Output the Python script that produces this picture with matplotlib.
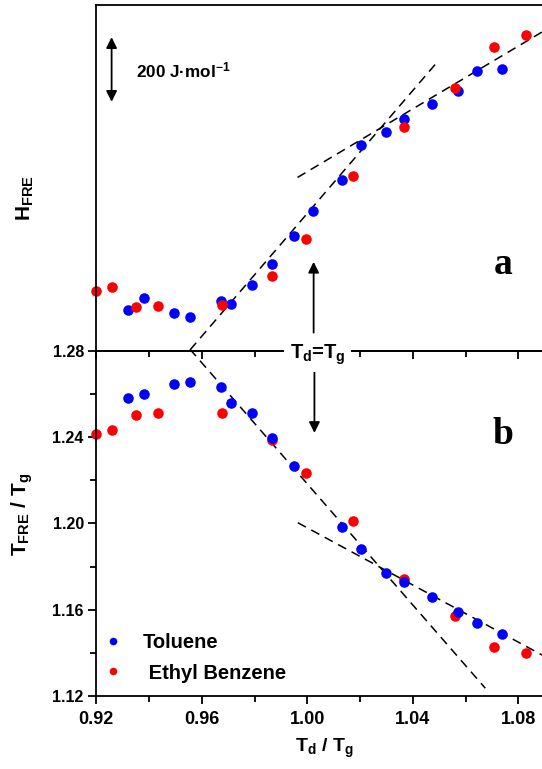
import numpy as np
import matplotlib
matplotlib.use("Agg")
import matplotlib.pyplot as plt
from matplotlib.ticker import MultipleLocator, FormatStrFormatter

plt.rcParams['font.family'] = 'Liberation Sans'
plt.rcParams['font.weight'] = 'bold'
plt.rcParams['mathtext.fontset'] = 'custom'
plt.rcParams['mathtext.rm'] = 'Liberation Sans:bold'
plt.rcParams['mathtext.it'] = 'Liberation Sans:bold'
plt.rcParams['mathtext.bf'] = 'Liberation Sans:bold'

# reduced deposition temperature Td/Tg
x_tol = [0.9319, 0.9379, 0.9495, 0.9554, 0.9673, 0.9712, 0.9792, 0.9867, 0.9948,
         1.0020, 1.0132, 1.0205, 1.0298, 1.0368, 1.0472, 1.0570, 1.0642, 1.0737]
x_eb = [0.9199, 0.9258, 0.9351, 0.9433, 0.9678, 0.9867, 0.9995, 1.0175, 1.0366,
        1.0559, 1.0707, 1.0829]

# (a) enthalpy overshoot, J/mol (relative)
h_tol = [124.6, 162.9, 115.3, 104.2, 154.6, 143.1, 203.1, 268.9, 355.5,
         433.7, 529.5, 635.8, 676.9, 717.1, 763.5, 804.6, 864.6, 871.7]
h_eb = [183.3, 195.7, 135.1, 136.9, 141.3, 229.7, 346.2, 540.9, 691.5,
        812.0, 938.7, 977.7]

# (b) onset temperature of the overshoot, TFRE/Tg (no point at 1.002)
t_tol = [1.2581, 1.2599, 1.2647, 1.2656, 1.2633, 1.2558, 1.2510, 1.2394, 1.2264,
         np.nan, 1.1983, 1.1881, 1.1770, 1.1730, 1.1657, 1.1588, 1.1537, 1.1487]
t_eb = [1.2415, 1.2433, 1.2503, 1.2511, 1.2511, 1.2386, 1.2235, 1.2009, 1.1741,
        1.1572, 1.1426, 1.1401]

# linear guides: (x0, x1), (y0, y1)
fit_a1 = [(0.9556, 1.0494), (3.0, 894.2)]
fit_a2 = [(0.9963, 1.0890), (536.0, 986.0)]
fit_b1 = [(0.9555, 1.0675), (1.2807, 1.1236)]
fit_b2 = [(0.9964, 1.0890), (1.2003, 1.1390)]

W, H = 542, 769
fig = plt.figure(figsize=(W / 100, H / 100), dpi=100)
left, right = 96.3 / W, 1.0
ax_a = fig.add_axes([left, 1 - 350.7 / H, right - left, (350.7 - 5) / H])
ax_b = fig.add_axes([left, 1 - 696 / H, right - left, (696 - 350.7) / H], sharex=ax_a)

dash = dict(color='black', lw=1.1, ls=(0, (6, 4)))
ms = 7.6
arrow = dict(color='black', lw=1.3, mutation_scale=16, shrinkA=0, shrinkB=0)

# panel a
ax_a.plot(*fit_a1, **dash)
ax_a.plot(*fit_a2, **dash)
ax_a.plot(x_tol, h_tol, 'o', color='#0000ff', ms=ms, mec='none', clip_on=False)
ax_a.plot(x_eb, h_eb, 'o', color='#ff0000', ms=ms, mec='none', clip_on=False)
ax_a.set_ylim(0, 1069.5)
ax_a.set_xlim(0.92, 0.92 + (W - 96.3) / 2637.5)
ax_a.spines['right'].set_visible(False)
ax_a.spines['bottom'].set_visible(False)
ax_a.tick_params(left=False, labelleft=False, bottom=False, labelbottom=False)
for s in ax_a.spines.values():
    s.set_linewidth(1.3)

# 200 J/mol scale bar
ax_a.annotate('', xy=(0.9258, 970), xytext=(0.9258, 770),
              arrowprops=dict(arrowstyle='<|-|>', **arrow))
ax_a.text(0.9350, 868, '200 J·mol$^{-1}$', fontsize=12.3, fontweight='bold',
          va='center', ha='left')
ax_a.annotate('', xy=(1.0024, 275), xytext=(1.0024, 56),
              arrowprops=dict(arrowstyle='-|>', **arrow))
ax_a.text(0.912, 0.2225, 'a', transform=ax_a.transAxes, fontsize=27,
          family='Liberation Serif', fontweight='bold', ha='center', va='baseline')

# panel b
ax_b.plot(*fit_b1, **dash, clip_on=False)
ax_b.plot(*fit_b2, **dash)
ax_b.plot(x_eb, t_eb, 'o', color='#ff0000', ms=ms, mec='none', clip_on=False)
ax_b.plot(x_tol, t_tol, 'o', color='#0000ff', ms=ms, mec='none', clip_on=False)
ax_b.set_ylim(1.12, 1.28)
ax_b.spines['right'].set_visible(False)
for s in ax_b.spines.values():
    s.set_linewidth(1.3)
ax_b.xaxis.set_major_locator(MultipleLocator(0.04))
ax_b.xaxis.set_minor_locator(MultipleLocator(0.02))
ax_b.yaxis.set_major_locator(MultipleLocator(0.04))
ax_b.yaxis.set_minor_locator(MultipleLocator(0.02))
ax_b.xaxis.set_major_formatter(FormatStrFormatter('%.2f'))
ax_b.yaxis.set_major_formatter(FormatStrFormatter('%.2f'))
ax_b.tick_params(which='both', direction='out', width=1.3)
ax_b.tick_params(which='major', length=6)
ax_b.tick_params(which='minor', length=4)
ax_b.tick_params(axis='x', labelsize=13, pad=5)
ax_b.tick_params(axis='y', labelsize=11.5, pad=3)

# inward ticks along the shared boundary
ax_top = ax_b.secondary_xaxis('top')
ax_top.xaxis.set_major_locator(MultipleLocator(0.04))
ax_top.xaxis.set_minor_locator(MultipleLocator(0.02))
ax_top.tick_params(which='both', direction='in', width=1.3, labeltop=False)
ax_top.tick_params(which='major', length=6)
ax_top.tick_params(which='minor', length=4)
ax_top.spines['top'].set_linewidth(1.3)

ax_b.annotate('', xy=(1.0027, 1.2419), xytext=(1.0027, 1.2701),
              arrowprops=dict(arrowstyle='-|>', **arrow))
ax_b.text(0.912, 0.7298, 'b', transform=ax_b.transAxes, fontsize=27,
          family='Liberation Serif', fontweight='bold', ha='center', va='baseline')

hb, = ax_b.plot([], [], 'o', color='#0000ff', ms=ms * 0.72, mec='none')
hr, = ax_b.plot([], [], 'o', color='#ff0000', ms=ms * 0.72, mec='none')
ax_b.legend([hb, hr], ['Toluene', ' Ethyl Benzene'], loc='lower left',
            bbox_to_anchor=(0.0144, 0.039), frameon=False, fontsize=14.5,
            handlelength=1.0, handletextpad=1.0, labelspacing=0.55,
            borderaxespad=0, borderpad=0)

# labels
fig.text(0.5855, 1 - 358.3 / H, 'T$_\\mathrm{d}$=T$_\\mathrm{g}$', fontsize=14.5,
         fontweight='bold', ha='center', va='baseline',
         bbox=dict(fc='white', ec='none', pad=4))
fig.text(25 / W, 1 - 198 / H, 'H$_\\mathrm{FRE}$', rotation=90, fontsize=15,
         ha='center', va='center')
fig.text(22 / W, 1 - 514 / H, 'T$_\\mathrm{FRE}$ / T$_\\mathrm{g}$', rotation=90,
         fontsize=15, ha='center', va='center')
fig.text(324 / W, 1 - 752 / H, 'T$_\\mathrm{d}$ / T$_\\mathrm{g}$', fontsize=14,
         ha='center', va='baseline')

fig.savefig('out.png', dpi=100)
